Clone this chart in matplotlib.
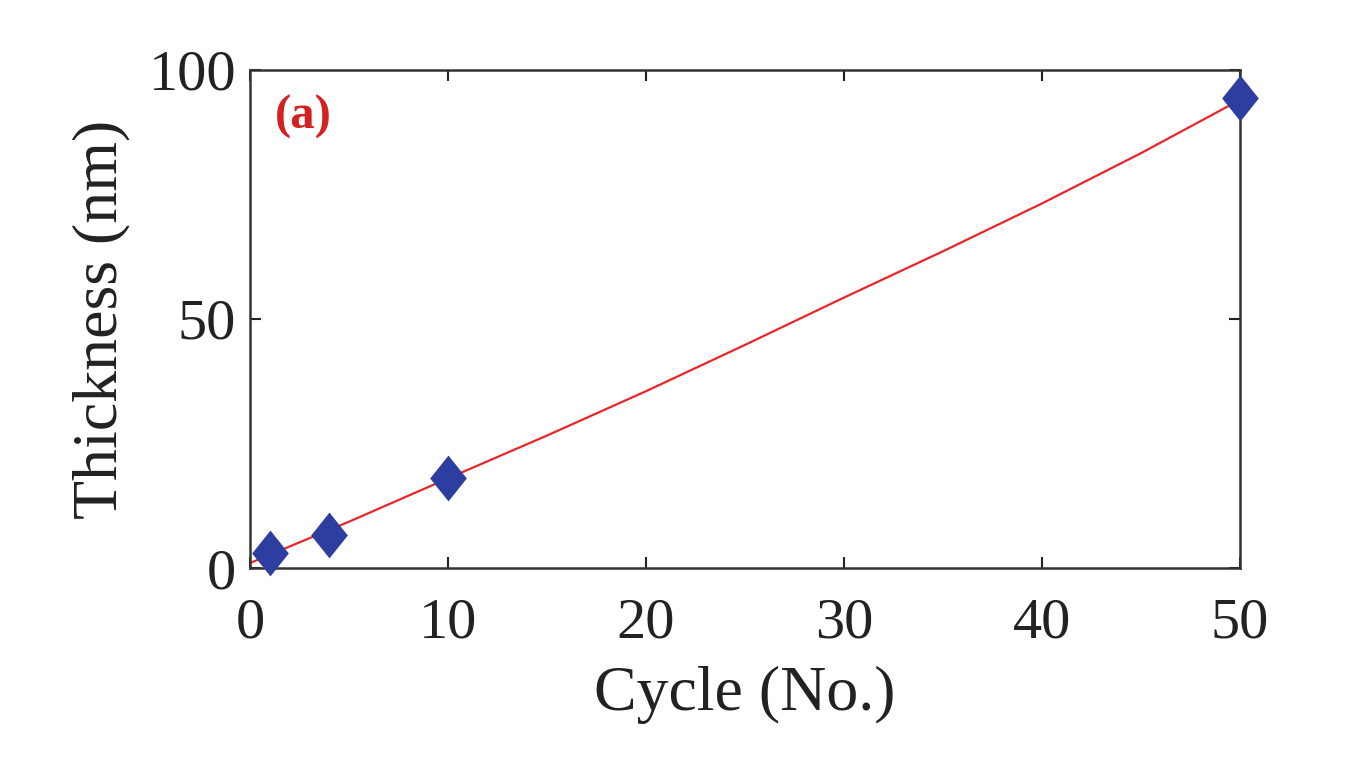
import matplotlib
matplotlib.use("Agg")
import matplotlib.pyplot as plt

# measured points
cycles = [1, 4, 10, 50]
thickness = [3.0, 6.6, 18.1, 94.4]

# fitted curve
fit_cycles = [0, 5, 10, 15, 20, 25, 30, 35, 40, 45, 50]
fit_thickness = [1.0, 9.3, 18.0, 26.6, 35.5, 44.8, 54.3, 63.6, 73.2, 83.3, 94.0]

x_ticks = [0, 10, 20, 30, 40, 50]
y_ticks = [0, 50, 100]


def main():
    plt.rcParams["font.family"] = ["Liberation Serif", "DejaVu Serif"]
    fig = plt.figure(figsize=(13.64, 7.68), dpi=100)
    ax = fig.add_axes([0.1833, 0.2604, 0.7258, 0.6485])

    ax.plot(fit_cycles, fit_thickness, color="#e8262a", lw=1.6, zorder=2)
    diamond = [(0, 1), (0.8, 0), (0, -1), (-0.8, 0), (0, 1)]
    ax.plot(cycles, thickness, linestyle="none", marker=diamond, ms=33,
            color="#2e3da0", markeredgewidth=0, zorder=3, clip_on=False)

    ax.set_xlim(0, 50)
    ax.set_ylim(0, 100)
    ax.set_xticks(x_ticks)
    ax.set_yticks(y_ticks)
    ax.tick_params(direction="in", length=8, width=1.5, top=True, right=True,
                   labelsize=42, colors="#222222")
    ax.tick_params(axis="x", pad=21)
    ax.tick_params(axis="y", pad=10)
    for s in ax.spines.values():
        s.set_linewidth(1.8)
        s.set_color("#333333")

    ax.set_xlabel("Cycle (No.)", fontsize=46, labelpad=12, color="#222222")
    ax.set_ylabel("Thickness (nm)", fontsize=46, labelpad=13, color="#222222")
    ax.text(0.054, 0.906, "(a)", transform=ax.transAxes, fontsize=35,
            fontweight="bold", color="#d42020", ha="center", va="center")

    fig.savefig("out.png", dpi=100)


if __name__ == "__main__":
    main()
